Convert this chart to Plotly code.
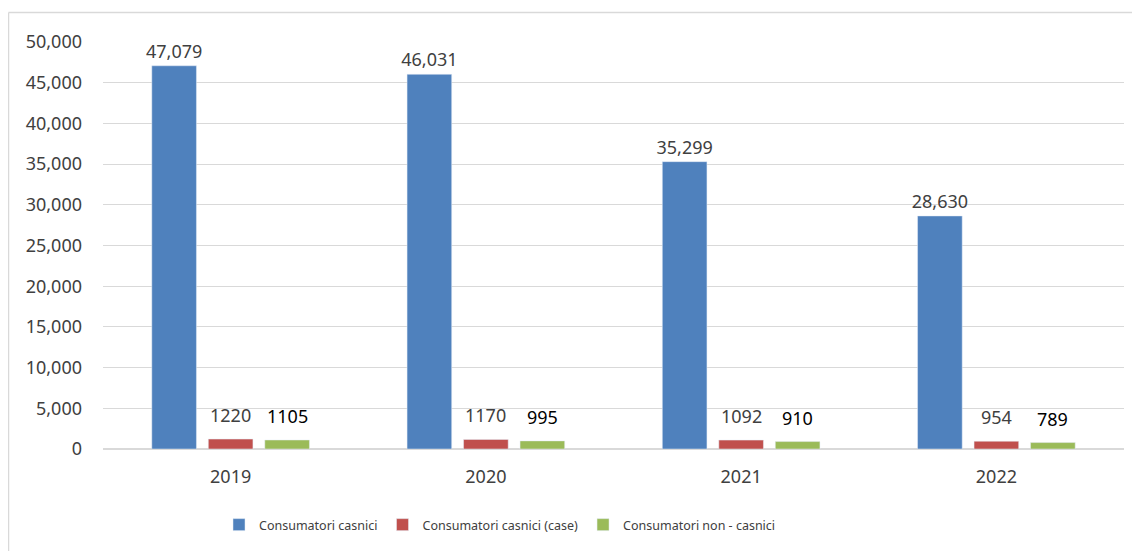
import plotly.graph_objects as go

years = ["2019", "2020", "2021", "2022"]
casnici = [47079, 46031, 35299, 28630]
casnici_case = [1220, 1170, 1092, 954]
non_casnici = [1105, 995, 910, 789]

names = ["Consumatori casnici", "Consumatori casnici (case)", "Consumatori non - casnici"]
colors = ["#4f81bd", "#c0504d", "#9bbb59"]
FONT = "Noto Sans"

# page body has an 8px margin; figure coords = page coords - 8
L, T, PW, PH = 95, 34, 1021, 408
BARGAP, BARGROUPGAP = 0.336, 0.21
slot_px = PW / len(years) * (1 - BARGAP) / 3  # pixel pitch between grouped bars

fig = go.Figure()
fig.add_bar(x=years, y=casnici, name=names[0], marker_color=colors[0],
            text=[f"{v:,}" for v in casnici], textposition="outside", constraintext="none",
            textfont=dict(color="#404040", size=18, family=FONT), cliponaxis=False)
fig.add_bar(x=years, y=casnici_case, name=names[1], marker_color=colors[1])
fig.add_bar(x=years, y=non_casnici, name=names[2], marker_color=colors[2])

# value labels for the small series sit a bit higher above their bars
# (category axis: annotation x given as category index)
for i, v in enumerate(casnici_case):
    fig.add_annotation(x=i, y=v, xref="x", yref="y", text=str(v), showarrow=False,
                       xshift=0, yshift=10, yanchor="bottom",
                       font=dict(color="#404040", size=18, family=FONT))
for i, v in enumerate(non_casnici):
    fig.add_annotation(x=i, y=v, xref="x", yref="y", text=str(v), showarrow=False,
                       xshift=slot_px, yshift=10, yanchor="bottom",
                       font=dict(color="#000000", size=18, family=FONT))

fig.update_layout(
    width=1132, height=543,
    margin=dict(l=L, r=1132 - L - PW, t=T, b=543 - T - PH),
    paper_bgcolor="white", plot_bgcolor="white",
    barmode="group", bargap=BARGAP, bargroupgap=BARGROUPGAP,
    font=dict(family=FONT, color="#404040", size=18),
    legend=dict(orientation="h", x=(211 - L) / PW, xanchor="left",
                y=(T + PH - 517) / PH, yanchor="middle",
                font=dict(size=12.5, color="#404040", family=FONT), itemwidth=30),
    showlegend=True,
)
fig.update_yaxes(range=[0, 50000], dtick=5000, tickformat=",", showgrid=True,
                 gridcolor="#d9d9d9", gridwidth=1, zeroline=True, zerolinecolor="#d9d9d9",
                 showline=False, ticks="", ticklabelstandoff=20,
                 tickfont=dict(size=18, color="#404040"))
fig.update_xaxes(type="category", range=[-0.5, len(years) - 0.5], showline=True,
                 linecolor="#d9d9d9", ticks="", ticklabelstandoff=11,
                 tickfont=dict(size=18, color="#404040"))

# outer chart border (top and left edges visible)
ytop = (T + PH - 4.5) / PH
xleft = (0.5 - L) / PW
fig.add_shape(type="line", xref="paper", yref="paper",
              x0=xleft, x1=1.2, y0=ytop, y1=ytop,
              line=dict(color="#d9d9d9", width=1.5))
fig.add_shape(type="line", xref="paper", yref="paper",
              x0=xleft, x1=xleft, y0=ytop, y1=-0.5,
              line=dict(color="#d9d9d9", width=1.5))

fig.write_html("out.html")
